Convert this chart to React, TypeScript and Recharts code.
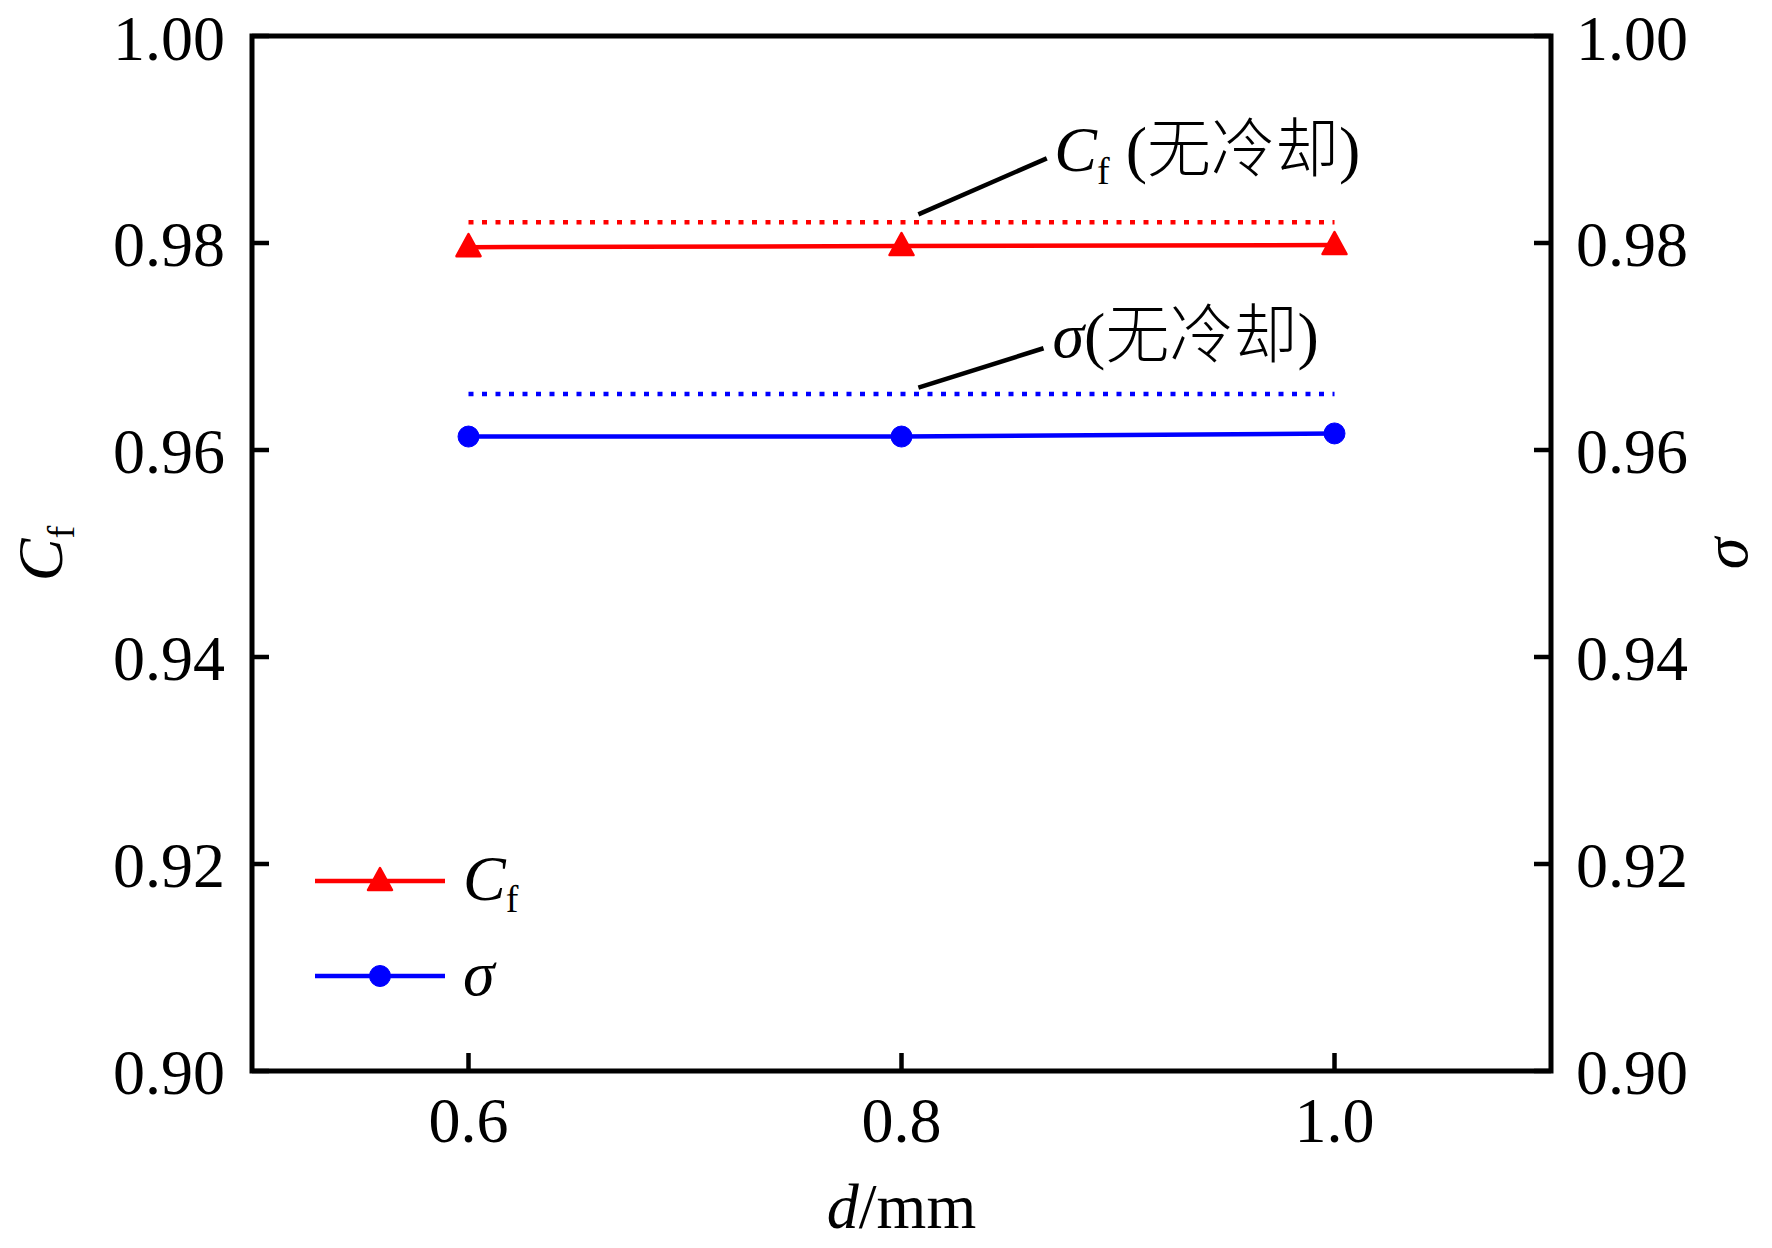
import {
  Legend,
  Line,
  LineChart,
  ReferenceArea,
  ReferenceDot,
  ReferenceLine,
  XAxis,
  YAxis,
} from 'recharts';

// 孔径 d (mm)
const dValues = [0.6, 0.8, 1.0];
// 流量系数 Cf 与总压恢复系数 σ
const cfValues = [0.9796, 0.9797, 0.9798];
const sigmaValues = [0.9613, 0.9613, 0.9616];
// 无冷却基准
const cfNoCooling = 0.982;
const sigmaNoCooling = 0.9654;

const xMajorTicks = [0.6, 0.8, 1.0];
const xMinorTicks = [0.7, 0.9];
const yMajorTicks = [0.9, 0.92, 0.94, 0.96, 0.98, 1.0];
const yMinorTicks = [0.91, 0.93, 0.95, 0.97, 0.99];
const xDomain = [0.5, 1.1];
const yDomain = [0.9, 1.0];

// 标注引线与文字位置（数据坐标）
const cfLeader = [
  { x: 0.8078, y: 0.98277 },
  { x: 0.8671, y: 0.98818 },
];
const sigmaLeader = [
  { x: 0.8078, y: 0.96602 },
  { x: 0.8656, y: 0.96983 },
];
const cfNoteAt = { x: 0.8708, y: 0.98689 };
const sigmaNoteAt = { x: 0.87, y: 0.96889 };

const data = dValues.map((d, i) => ({ d, cf: cfValues[i], sigma: sigmaValues[i] }));

const FONT = "'Liberation Serif', 'Times New Roman', 'Noto Sans CJK SC', serif";
const RED = '#ff0000';
const BLUE = '#0000ff';
const FS = 64;

function TriangleDot(props: any) {
  const { cx, cy, fill } = props;
  if (cx == null || cy == null) return null;
  return (
    <path
      d={`M${cx},${cy - 13} L${cx + 12},${cy + 9} L${cx - 12},${cy + 9} Z`}
      fill={fill}
      stroke={fill}
      strokeWidth={2.5}
      strokeLinejoin="round"
    />
  );
}

function CircleDot(props: any) {
  const { cx, cy, fill } = props;
  if (cx == null || cy == null) return null;
  return <circle cx={cx} cy={cy} r={10.5} fill={fill} stroke={fill} strokeWidth={1} />;
}

const NoCool = () => (
  <>
    <tspan>(</tspan>
    <tspan fontWeight={300}>无冷却</tspan>
    <tspan>)</tspan>
  </>
);

function CfNote(props: any) {
  const { x, y } = props.viewBox;
  return (
    <text x={x} y={y} fontFamily={FONT} fontSize={FS} fill="#000">
      <tspan fontStyle="italic">C</tspan>
      <tspan fontSize={38} dy={13}>f</tspan>
      <tspan dy={-13}> </tspan>
      <NoCool />
    </text>
  );
}

function SigmaNote(props: any) {
  const { x, y } = props.viewBox;
  return (
    <text x={x} y={y} fontFamily={FONT} fontSize={FS} fill="#000">
      <tspan fontStyle="italic">σ</tspan>
      <NoCool />
    </text>
  );
}

function LegendBox(props: any) {
  const rows = props.payload || [];
  return (
    <svg width={280} height={190} style={{ overflow: 'visible' }}>
      {rows.map((entry: any, i: number) => {
        const cy = 48 + i * 95;
        const isCf = entry.dataKey === 'cf';
        return (
          <g key={entry.dataKey}>
            <line x1={15} x2={145} y1={cy} y2={cy} stroke={entry.color} strokeWidth={4.5} />
            {isCf ? <TriangleDot cx={80} cy={cy} fill={entry.color} /> : <CircleDot cx={80} cy={cy} fill={entry.color} />}
            <text x={163} y={cy + 19} fontFamily={FONT} fontSize={FS} fill="#000">
              <tspan fontStyle="italic">{isCf ? 'C' : 'σ'}</tspan>
              {isCf && (
                <tspan fontSize={38} dy={12}>
                  f
                </tspan>
              )}
            </text>
          </g>
        );
      })}
    </svg>
  );
}

const tickFont = { fill: '#000', fontSize: FS, fontFamily: FONT };
const tickStroke = { stroke: '#000', strokeWidth: 4.5 };

export default function App() {
  return (
    <div style={{ width: 1772, height: 1248, background: '#fff' }}>
      <style>{'body{margin:0}'}</style>
      <LineChart width={1772} height={1248} data={data} margin={{ top: 36, right: 0, bottom: 0, left: 0 }}>
        <XAxis
          xAxisId="x"
          dataKey="d"
          type="number"
          domain={xDomain}
          allowDataOverflow
          ticks={xMajorTicks}
          tickFormatter={(v: number) => v.toFixed(1)}
          tick={tickFont}
          tickLine={tickStroke}
          tickSize={-18}
          tickMargin={44}
          axisLine={false}
          height={177}
          label={(p: any) => (
            <text
              x={p.viewBox.x + p.viewBox.width / 2}
              y={p.viewBox.y + 157}
              textAnchor="middle"
              fontFamily={FONT}
              fontSize={FS}
              fill="#000"
            >
              <tspan fontStyle="italic">d</tspan>/mm
            </text>
          )}
        />
        <XAxis
          xAxisId="xMinor"
          type="number"
          domain={xDomain}
          allowDataOverflow
          ticks={xMinorTicks}
          tick={false}
          tickLine={tickStroke}
          tickSize={9}
          axisLine={false}
          mirror
          height={0}
        />
        <YAxis
          yAxisId="L"
          type="number"
          domain={yDomain}
          allowDataOverflow
          ticks={yMajorTicks}
          tickFormatter={(v: number) => v.toFixed(2)}
          tick={tickFont}
          tickLine={tickStroke}
          tickSize={-17}
          tickMargin={44}
          axisLine={false}
          width={252}
          label={(p: any) => {
            const x = p.viewBox.x + 62;
            const y = p.viewBox.y + p.viewBox.height / 2;
            return (
              <text x={x} y={y} transform={`rotate(-90 ${x} ${y})`} textAnchor="middle" fontFamily={FONT} fontSize={FS} fill="#000">
                <tspan fontStyle="italic">C</tspan>
                <tspan fontSize={38} dy={12}>
                  f
                </tspan>
              </text>
            );
          }}
        />
        <YAxis
          yAxisId="LMinor"
          type="number"
          domain={yDomain}
          allowDataOverflow
          ticks={yMinorTicks}
          tick={false}
          tickLine={tickStroke}
          tickSize={9}
          axisLine={false}
          mirror
          width={0}
        />
        <YAxis
          yAxisId="R"
          orientation="right"
          type="number"
          domain={yDomain}
          allowDataOverflow
          ticks={yMajorTicks}
          tickFormatter={(v: number) => v.toFixed(2)}
          tick={tickFont}
          tickLine={tickStroke}
          tickSize={-17}
          tickMargin={42}
          axisLine={false}
          width={221}
          label={(p: any) => {
            const x = p.viewBox.x + 196;
            const y = p.viewBox.y + p.viewBox.height / 2;
            return (
              <text x={x} y={y} transform={`rotate(-90 ${x} ${y})`} textAnchor="middle" fontFamily={FONT} fontSize={FS} fill="#000">
                <tspan fontStyle="italic">σ</tspan>
              </text>
            );
          }}
        />
        <YAxis
          yAxisId="RMinor"
          orientation="right"
          type="number"
          domain={yDomain}
          allowDataOverflow
          ticks={yMinorTicks}
          tick={false}
          tickLine={tickStroke}
          tickSize={9}
          axisLine={false}
          mirror
          width={0}
        />

        <ReferenceArea
          xAxisId="x"
          yAxisId="L"
          x1={xDomain[0]}
          x2={xDomain[1]}
          y1={yDomain[0]}
          y2={yDomain[1]}
          fill="none"
          stroke="#000"
          strokeWidth={5}
          ifOverflow="visible"
        />

        <ReferenceLine
          xAxisId="x"
          yAxisId="L"
          segment={[
            { x: dValues[0], y: cfNoCooling },
            { x: dValues[dValues.length - 1], y: cfNoCooling },
          ]}
          stroke={RED}
          strokeWidth={4.5}
          strokeDasharray="5 8.5"
        />
        <ReferenceLine
          xAxisId="x"
          yAxisId="R"
          segment={[
            { x: dValues[0], y: sigmaNoCooling },
            { x: dValues[dValues.length - 1], y: sigmaNoCooling },
          ]}
          stroke={BLUE}
          strokeWidth={4.5}
          strokeDasharray="5 8.5"
        />
        <ReferenceLine xAxisId="x" yAxisId="L" segment={cfLeader} stroke="#000" strokeWidth={4.5} />
        <ReferenceLine xAxisId="x" yAxisId="L" segment={sigmaLeader} stroke="#000" strokeWidth={4.5} />
        <ReferenceDot
          xAxisId="x"
          yAxisId="L"
          x={cfNoteAt.x}
          y={cfNoteAt.y}
          r={0.5}
          fill="none"
          stroke="none"
          label={(p: any) => <CfNote {...p} />}
        />
        <ReferenceDot
          xAxisId="x"
          yAxisId="L"
          x={sigmaNoteAt.x}
          y={sigmaNoteAt.y}
          r={0.5}
          fill="none"
          stroke="none"
          label={(p: any) => <SigmaNote {...p} />}
        />

        <Line
          xAxisId="x"
          yAxisId="L"
          dataKey="cf"
          name="Cf"
          stroke={RED}
          fill={RED}
          strokeWidth={4.5}
          dot={(p: any) => <TriangleDot key={p.index} {...p} fill={RED} />}
          activeDot={false}
          isAnimationActive={false}
        />
        <Line
          xAxisId="x"
          yAxisId="R"
          dataKey="sigma"
          name="σ"
          stroke={BLUE}
          fill={BLUE}
          strokeWidth={4.5}
          dot={(p: any) => <CircleDot key={p.index} {...p} fill={BLUE} />}
          activeDot={false}
          isAnimationActive={false}
        />

        <Legend
          layout="horizontal"
          verticalAlign="middle"
          align="center"
          content={(p: any) => <LegendBox {...p} />}
          wrapperStyle={{ left: 300, top: 833, width: 280, height: 190 }}
        />
      </LineChart>
    </div>
  );
}
